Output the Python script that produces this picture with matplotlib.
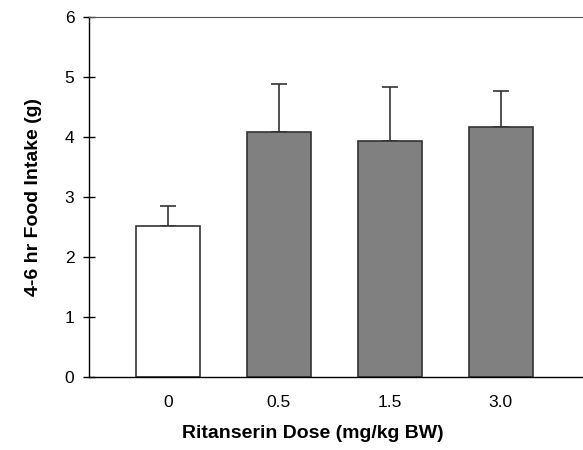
import numpy as np
import matplotlib.pyplot as plt

plt.rcParams['font.family'] = ['Liberation Sans', 'DejaVu Sans']

doses = ['0', '0.5', '1.5', '3.0']
intake = [2.52, 4.08, 3.94, 4.17]
sem = [0.33, 0.81, 0.90, 0.59]
bar_colors = ['white', '#808080', '#808080', '#808080']

fig = plt.figure(figsize=(5.83, 4.5), dpi=100)
# frame runs off the right edge of the picture, as in the source
ax = fig.add_axes([0.1527, 0.1622, 0.8473, 0.7998])

x = np.arange(len(doses))
ax.bar(x, intake, width=0.58, color=bar_colors, edgecolor='#333333', linewidth=1.2, zorder=2)
# upper error bars only
ax.errorbar(x, intake, yerr=[np.zeros(len(sem)), sem], fmt='none', ecolor='#333333',
            elinewidth=1.2, capsize=6, capthick=1.2, zorder=1)

ax.set_xlim(-0.71, 3.74)
ax.set_ylim(0, 6)
ax.set_xticks(x)
ax.set_xticklabels(doses)
ax.set_yticks(range(0, 7))
ax.tick_params(axis='x', length=0, pad=13, labelsize=12.5)
ax.tick_params(axis='y', direction='inout', length=9, width=1, pad=6, labelsize=12.5)
ax.spines['right'].set_visible(False)
ax.spines['top'].set_color('#555555')
ax.spines['left'].set_linewidth(1)
ax.spines['bottom'].set_linewidth(1)

ax.set_xlabel('Ritanserin Dose (mg/kg BW)', fontsize=14, fontweight='bold', labelpad=11)
ax.xaxis.label.set_x(0.453)
ax.set_ylabel('4-6 hr Food Intake (g)', fontsize=14, fontweight='bold', labelpad=16)

fig.savefig('out.png', dpi=100)
